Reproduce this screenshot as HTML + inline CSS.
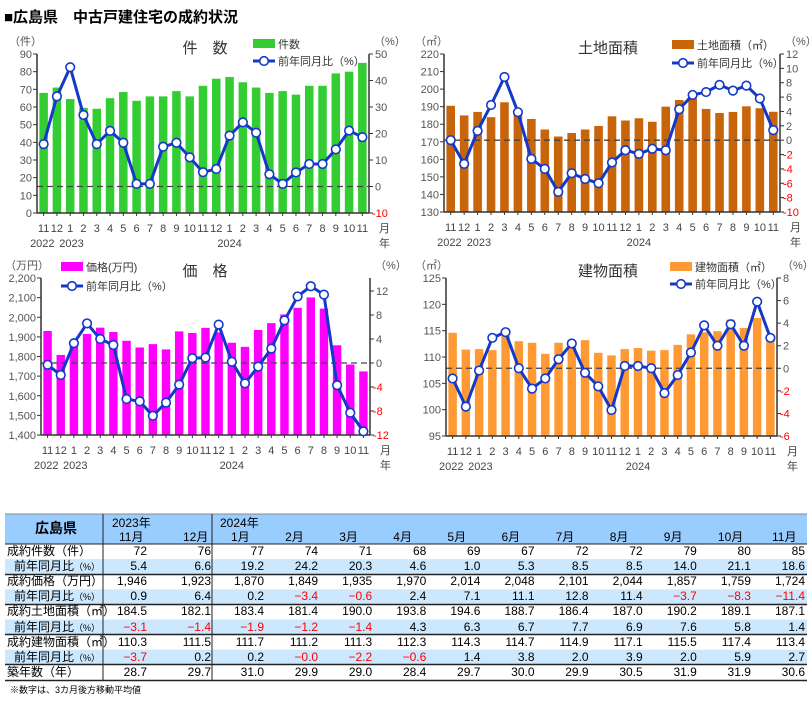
<!DOCTYPE html>
<html><head><meta charset="utf-8">
<style>
body{margin:0;background:#fff;width:812px;height:701px;overflow:hidden;position:relative;font-family:"Liberation Sans","Noto Sans CJK JP",sans-serif;}
#title{position:absolute;left:4px;top:6px;font-size:15px;font-weight:bold;color:#000;}
svg{position:absolute;left:0;top:0}
.t{position:absolute;font-size:12px;color:#000;white-space:nowrap;line-height:15px}
</style></head><body>
<div id="title">■広島県　中古戸建住宅の成約状況</div>
<svg id="s" width="812" height="701" font-family="Liberation Sans, Noto Sans CJK JP, sans-serif"></svg>
<div id="tbl"></div>
<script>
var S='';
function chart(c){
 var n=c.bars.length, sp=(c.x1-c.x0)/n, bw=sp*0.64;
 var yl=function(v){return c.bot-(v-c.lmin)/(c.lmax-c.lmin)*(c.bot-c.top);};
 var yr=function(v){return c.bot-(v-c.rmin)/(c.rmax-c.rmin)*(c.bot-c.top);};
 for(var i=0;i<n;i++){var cx=c.x0+(i+0.5)*sp;var y=yl(c.bars[i]);
  S+='<rect x="'+(cx-bw/2)+'" y="'+y+'" width="'+bw+'" height="'+(c.bot-y)+'" fill="'+c.col+'"/>';}
 var z=yr(0);S+='<line x1="'+c.x0+'" x2="'+c.x1+'" y1="'+z+'" y2="'+z+'" stroke="#444" stroke-width="1.3" stroke-dasharray="6,4"/>';
 S+='<line x1="'+c.x0+'" x2="'+c.x0+'" y1="'+c.top+'" y2="'+c.bot+'" stroke="#333" stroke-width="1.5"/>';
 S+='<line x1="'+c.x1+'" x2="'+c.x1+'" y1="'+c.top+'" y2="'+c.bot+'" stroke="#333" stroke-width="1.5"/>';
 S+='<line x1="'+c.x0+'" x2="'+c.x1+'" y1="'+c.bot+'" y2="'+c.bot+'" stroke="#333" stroke-width="1.5"/>';
 for(var v=c.lmin;v<=c.lmax+1e-9;v+=c.lstep){var y=yl(v);
  S+='<line x1="'+(c.x0-4)+'" x2="'+c.x0+'" y1="'+y+'" y2="'+y+'" stroke="#333"/>';
  var lab=c.comma?v.toLocaleString('en-US'):v;
  S+='<text x="'+(c.x0-5)+'" y="'+(y+4)+'" font-size="11" fill="#555" text-anchor="end">'+lab+'</text>';}
 for(var v=c.rmin;v<=c.rmax+1e-9;v+=c.rstep){var y=yr(v);
  S+='<line x1="'+c.x1+'" x2="'+(c.x1+4)+'" y1="'+y+'" y2="'+y+'" stroke="#333"/>';
  S+='<text x="'+(c.x1+(v<0?3:6))+'" y="'+(y+4)+'" font-size="11" fill="'+(v<0?'#f00':'#555')+'">'+v+'</text>';}
 for(var i=0;i<n;i++){var cx=c.x0+(i+0.5)*sp;
  S+='<line x1="'+cx+'" x2="'+cx+'" y1="'+c.bot+'" y2="'+(c.bot+3)+'" stroke="#333"/>';}
 var mon=[11,12,1,2,3,4,5,6,7,8,9,10,11,12,1,2,3,4,5,6,7,8,9,10,11];
 for(var i=0;i<n;i++){var cx=c.x0+(i+0.5)*sp;
  S+='<text x="'+cx+'" y="'+(c.bot+19)+'" font-size="11" fill="#444" text-anchor="middle">'+mon[i]+'</text>';}
 var yy=c.bot+34;
 S+='<text x="'+(c.x0+0.4*sp)+'" y="'+yy+'" font-size="11" fill="#444" text-anchor="middle">2022</text>';
 S+='<text x="'+(c.x0+2.6*sp)+'" y="'+yy+'" font-size="11" fill="#444" text-anchor="middle">2023</text>';
 S+='<text x="'+(c.x0+14.5*sp)+'" y="'+yy+'" font-size="11" fill="#444" text-anchor="middle">2024</text>';
 S+='<text x="'+(c.x1+10)+'" y="'+(c.bot+19)+'" font-size="11" fill="#444">月</text>';
 S+='<text x="'+(c.x1+10)+'" y="'+(c.bot+34)+'" font-size="11" fill="#444">年</text>';
 var p=[];for(var i=0;i<n;i++)p.push((c.x0+(i+0.5)*sp)+','+yr(c.yoy[i]));
 S+='<polyline points="'+p.join(' ')+'" fill="none" stroke="#1438c8" stroke-width="3" stroke-linejoin="round"/>';
 for(var i=0;i<n;i++)S+='<circle cx="'+(c.x0+(i+0.5)*sp)+'" cy="'+yr(c.yoy[i])+'" r="4.3" fill="#fff" stroke="#1438c8" stroke-width="1.6"/>';
 S+='<text x="'+c.tx+'" y="'+c.ty+'" font-size="15" fill="#333" text-anchor="middle">'+c.title+'</text>';
 S+='<text x="'+c.ux+'" y="'+(c.top-9)+'" font-size="11" fill="#555">'+c.unit+'</text>';
 S+='<text x="'+(c.x1+5)+'" y="'+(c.top-9)+'" font-size="11" fill="#555">（%）</text>';
 S+='<rect x="'+c.lx+'" y="'+(c.ly-5)+'" width="22" height="9" fill="'+c.col+'"/>';
 S+='<text x="'+(c.lx+25)+'" y="'+(c.ly+4)+'" font-size="11" fill="#333">'+c.lname+'</text>';
 var l2=c.ly+c.ldy;
 S+='<line x1="'+c.lx+'" x2="'+(c.lx+22)+'" y1="'+l2+'" y2="'+l2+'" stroke="#1438c8" stroke-width="3"/>';
 S+='<circle cx="'+(c.lx+11)+'" cy="'+l2+'" r="4.3" fill="#fff" stroke="#1438c8" stroke-width="1.6"/>';
 S+='<text x="'+(c.lx+25)+'" y="'+(l2+4)+'" font-size="11" fill="#333">前年同月比（%）</text>';
}
chart({x0:37,x1:369,top:54,bot:213,lmin:0,lmax:90,lstep:10,rmin:-10,rmax:50,rstep:10,col:'#33cc33',
bars:[68,71,64.5,59.5,59,65,68.5,63.5,66,66,69,66,72,76,77,74,71,68,69,67,72,72,79,80,85],
yoy:[16,34,45,27,16,21,16.5,1,1,15,16.5,11,5.4,6.6,19.2,24.2,20.3,4.6,1.0,5.3,8.5,8.5,14,21.1,18.6],
title:'件　数',tx:205,ty:53,unit:'（件）',ux:9,lname:'件数',lx:253,ly:44,ldy:17});
chart({x0:444,x1:780,top:54,bot:212,lmin:130,lmax:220,lstep:10,rmin:-10,rmax:12,rstep:2,col:'#c8640a',
bars:[190.5,185,187,184,192.5,186,183,177,173,175,177,179,184.5,182.1,183.4,181.4,190,193.8,194.6,188.7,186.4,187,190.2,189.1,187.1],
yoy:[0,-3.3,1.3,4.9,8.8,3.9,-2.6,-4,-7.2,-4.6,-5.4,-6,-3.1,-1.4,-1.9,-1.2,-1.4,4.3,6.3,6.7,7.7,6.9,7.6,5.8,1.4],
title:'土地面積',tx:608,ty:53,unit:'（㎡）',ux:415,lname:'土地面積（㎡）',lx:672,ly:45,ldy:18});
chart({x0:41,x1:370,top:278,bot:435,lmin:1400,lmax:2200,lstep:100,comma:1,rmin:-12,rmax:14.17,rstep:4,col:'#ff00ff',
bars:[1930,1808,1875,1915,1947,1925,1880,1846,1863,1836,1928,1920,1946,1923,1870,1849,1935,1970,2014,2048,2101,2044,1857,1759,1724],
yoy:[-0.3,-2,3.3,6.6,4,3,-6,-6.4,-8.8,-6.6,-3.6,0.8,0.9,6.4,0.2,-3.4,-0.6,2.4,7.1,11.1,12.8,11.4,-3.7,-8.3,-11.4],
title:'価　格',tx:205,ty:276,unit:'（万円）',ux:5,lname:'価格(万円)',lx:61,ly:267,ldy:19});
chart({x0:446,x1:777,top:278,bot:436,lmin:95,lmax:125,lstep:5,rmin:-6,rmax:8,rstep:2,col:'#ff9933',
bars:[114.6,111.4,111.5,111.3,114,113,112.7,110.6,112.7,112.3,113.2,110.8,110.3,111.5,111.7,111.2,111.3,112.3,114.3,114.7,114.9,117.1,115.5,117.4,113.4],
yoy:[-0.9,-3.4,-0.2,2.7,3.2,0,-1.8,-0.9,0.8,2.2,-0.4,-1.6,-3.7,0.2,0.2,-0.0,-2.2,-0.6,1.4,3.8,2.0,3.9,2.0,5.9,2.7],
title:'建物面積',tx:608,ty:276,unit:'（㎡）',ux:415,lname:'建物面積（㎡）',lx:670,ly:267,ldy:17});

var T='';
T+='<rect x="5" y="514" width="802" height="30" fill="#99ccff"/>';
var rows=[
['成約件数（件）',0,['72','76','77','74','71','68','69','67','72','72','79','80','85']],
['前年同月比',1,['5.4','6.6','19.2','24.2','20.3','4.6','1.0','5.3','8.5','8.5','14.0','21.1','18.6']],
['成約価格（万円）',0,['1,946','1,923','1,870','1,849','1,935','1,970','2,014','2,048','2,101','2,044','1,857','1,759','1,724']],
['前年同月比',1,['0.9','6.4','0.2','−3.4','−0.6','2.4','7.1','11.1','12.8','11.4','−3.7','−8.3','−11.4']],
['成約土地面積（㎡）',0,['184.5','182.1','183.4','181.4','190.0','193.8','194.6','188.7','186.4','187.0','190.2','189.1','187.1']],
['前年同月比',1,['−3.1','−1.4','−1.9','−1.2','−1.4','4.3','6.3','6.7','7.7','6.9','7.6','5.8','1.4']],
['成約建物面積（㎡）',0,['110.3','111.5','111.7','111.2','111.3','112.3','114.3','114.7','114.9','117.1','115.5','117.4','113.4']],
['前年同月比',1,['−3.7','0.2','0.2','−0.0','−2.2','−0.6','1.4','3.8','2.0','3.9','2.0','5.9','2.7']],
['築年数（年）',0,['28.7','29.7','31.0','29.9','29.0','28.4','29.7','30.0','29.9','30.5','31.9','31.9','30.6']]];
var rights=[147,211];for(var k=0;k<11;k++)rights.push(264+k*54.1);
var H='';
for(var r=0;r<rows.length;r++){var y=544+r*15.1;
 if(rows[r][1])T+='<rect x="5" y="'+y+'" width="802" height="15" fill="#cce8ff"/>';
 if(rows[r][1])H+='<div class="t" style="left:0;width:100px;text-align:right;top:'+y+'px">前年同月比<span style="font-size:9px">（%）</span></div>';
 else H+='<div class="t" style="left:7px;top:'+y+'px">'+rows[r][0]+'</div>';
 for(var k=0;k<13;k++){var v=rows[r][2][k];
  H+='<div class="t" style="left:'+(rights[k]-60)+'px;width:60px;text-align:right;top:'+y+'px;color:'+(v[0]=='−'?'#f00':'#000')+'">'+v+'</div>';}
}
[544,574,604,634,664,680].forEach(function(y,i){T+='<line x1="5" x2="807" y1="'+(y+(i?0.5:0))+'" y2="'+(y+(i?0.5:0))+'" stroke="#222" stroke-width="'+(i?1.4:1)+'"/>';});
T+='<line x1="5" x2="807" y1="514" y2="514" stroke="#888" stroke-width="1"/>';
T+='<line x1="103" x2="103" y1="514" y2="680" stroke="#222"/><line x1="212" x2="212" y1="514" y2="680" stroke="#222"/>';
S+=T;
document.getElementById('s').innerHTML=S;
H+='<div class="t" style="left:35px;top:521px;font-size:14px;font-weight:bold">広島県</div>';
H+='<div class="t" style="left:112px;top:516px">2023年</div><div class="t" style="left:220px;top:516px">2024年</div>';
var ms=['11月','12月','1月','2月','3月','4月','5月','6月','7月','8月','9月','10月','11月'];
for(var k=0;k<13;k++)H+='<div class="t" style="left:'+(rights[k]-(k<2?28:33))+'px;top:530px">'+ms[k]+'</div>';
H+='<div class="t" style="left:10px;top:683px;font-size:9px">※数字は、3カ月後方移動平均値</div>';
document.getElementById('tbl').innerHTML=H;
</script>
</body></html>
